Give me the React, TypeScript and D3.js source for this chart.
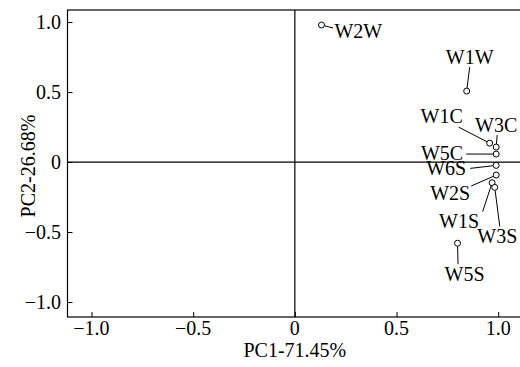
import React, { useEffect, useRef } from 'react';
import * as d3 from 'd3';

// sample names and PCA scores
const samples = ['W2W', 'W1W', 'W1C', 'W3C', 'W5C', 'W6S', 'W2S', 'W1S', 'W3S', 'W5S'];
const pc1 = [0.131, 0.845, 0.958, 0.99, 0.99, 0.99, 0.99, 0.97, 0.983, 0.8];
const pc2 = [0.979, 0.507, 0.135, 0.107, 0.057, -0.024, -0.093, -0.148, -0.181, -0.58];

const xTicks = [-1.0, -0.5, 0, 0.5, 1.0];
const yTicks = [-1.0, -0.5, 0, 0.5, 1.0];

// label placement relative to the point (pixels): text anchor point + leader end
const labelPos = [
  { tx: 13, ty: 13, anchor: 'start', lx: 11.5, ly: 3 },
  { tx: 3, ty: -27, anchor: 'middle', lx: 3, ly: -24 },
  { tx: -48, ty: -20, anchor: 'middle', lx: -31, ly: -16 },
  { tx: 0, ty: -15, anchor: 'middle', lx: 1, ly: -12 },
  { tx: -33, ty: 6, anchor: 'end', lx: -30, ly: 0 },
  { tx: -30, ty: 10, anchor: 'end', lx: -26, ly: 3 },
  { tx: -26, ty: 25, anchor: 'end', lx: -25, ly: 11 },
  { tx: -33, ty: 45, anchor: 'middle', lx: -9.5, ly: 29 },
  { tx: 2.5, ty: 56, anchor: 'middle', lx: 5, ly: 39 },
  { tx: 7, ty: 38, anchor: 'middle', lx: 0.5, ly: 21 },
];

function App() {
  const svgRef = useRef(null);

  useEffect(() => {
    document.body.style.margin = '0';
    const svg = d3.select(svgRef.current);
    svg.selectAll('*').remove();

    const left = 67.5, top = 10, bottom = 317, right = 522;
    const x = d3.scaleLinear().domain([-1.118, 1.117]).range([left, right]);
    const y = d3.scaleLinear().domain([-1.107, 1.086]).range([bottom, top]);
    const font = 'Liberation Serif';
    const fs = 20;

    const g = svg.append('g');

    // frame
    g.append('rect')
      .attr('x', left).attr('y', top)
      .attr('width', right - left).attr('height', bottom - top)
      .attr('fill', 'none').attr('stroke', '#000').attr('stroke-width', 1.2);

    // zero lines
    g.append('line')
      .attr('x1', x(0)).attr('x2', x(0)).attr('y1', top).attr('y2', bottom)
      .attr('stroke', '#000').attr('stroke-width', 1.2);
    g.append('line')
      .attr('x1', left).attr('x2', right).attr('y1', y(0)).attr('y2', y(0))
      .attr('stroke', '#000').attr('stroke-width', 1.2);

    const fmt = (d) => (d === 0 ? '0' : d3.format('.1f')(d));

    // x axis, inward ticks
    const xa = g.append('g')
      .attr('transform', `translate(0,${bottom})`)
      .call(d3.axisTop(x).tickValues(xTicks).tickSize(5).tickFormat(() => ''));
    xa.select('.domain').remove();
    g.selectAll('.xlab').data(xTicks).enter().append('text')
      .attr('x', (d) => x(d)).attr('y', bottom + 18)
      .attr('text-anchor', 'middle')
      .style('font-family', font).style('font-size', fs + 'px')
      .text(fmt);

    // y axis, inward ticks
    const ya = g.append('g')
      .attr('transform', `translate(${left},0)`)
      .call(d3.axisRight(y).tickValues(yTicks).tickSize(5).tickFormat(() => ''));
    ya.select('.domain').remove();
    g.selectAll('.ylab').data(yTicks).enter().append('text')
      .attr('x', left - 6.5).attr('y', (d) => y(d) + 6.5)
      .attr('text-anchor', 'end')
      .style('font-family', font).style('font-size', fs + 'px')
      .text(fmt);

    // axis titles
    g.append('text')
      .attr('x', x(0)).attr('y', 357)
      .attr('text-anchor', 'middle')
      .style('font-family', font).style('font-size', fs + 'px')
      .text('PC1-71.45%');
    g.append('text')
      .attr('transform', `translate(35,166) rotate(-90)`)
      .attr('text-anchor', 'middle')
      .style('font-family', font).style('font-size', fs + 'px')
      .text('PC2-26.68%');

    const pts = samples.map((s, i) => ({ name: s, px: x(pc1[i]), py: y(pc2[i]), lp: labelPos[i] }));

    // leader lines
    g.selectAll('.leader').data(pts).enter().append('line')
      .attr('x1', (d) => d.px + 3 * Math.cos(Math.atan2(d.lp.ly, d.lp.lx)))
      .attr('y1', (d) => d.py + 3 * Math.sin(Math.atan2(d.lp.ly, d.lp.lx)))
      .attr('x2', (d) => d.px + d.lp.lx)
      .attr('y2', (d) => d.py + d.lp.ly)
      .attr('stroke', '#000').attr('stroke-width', 1);

    // points
    g.selectAll('.pt').data(pts).enter().append('circle')
      .attr('cx', (d) => d.px).attr('cy', (d) => d.py).attr('r', 3)
      .attr('fill', '#fff').attr('stroke', '#000').attr('stroke-width', 1);

    // labels
    g.selectAll('.lab').data(pts).enter().append('text')
      .attr('x', (d) => d.px + d.lp.tx).attr('y', (d) => d.py + d.lp.ty)
      .attr('text-anchor', (d) => d.lp.anchor)
      .style('font-family', font).style('font-size', fs + 'px')
      .text((d) => d.name);
  }, []);

  return (
    <div>
      <svg ref={svgRef} width={520} height={367} style={{ display: 'block', background: '#fff' }}></svg>
    </div>
  );
}

export default App;
